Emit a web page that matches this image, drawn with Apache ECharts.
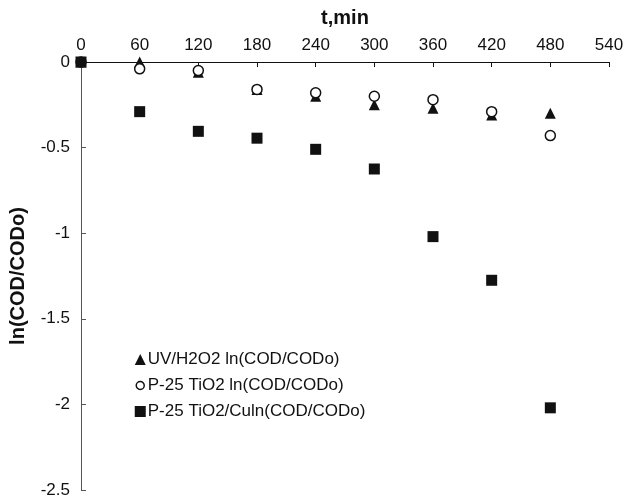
<!DOCTYPE html>
<html>
<head>
<meta charset="utf-8">
<script src="https://cdn.jsdelivr.net/npm/echarts@6/dist/echarts.min.js"></script>
<style>
  html, body { margin: 0; padding: 0; background: #fff; }
  #chart { width: 630px; height: 498px; }
</style>
</head>
<body>
<div id="chart"></div>
<script>
// time points, min
var times = [0, 60, 120, 180, 240, 300, 360, 420, 480];
// ln(COD/CODo) per process
var uvH2o2 = [0, 0, -0.06, -0.16, -0.2, -0.25, -0.27, -0.31, -0.3];
var p25Tio2 = [0, -0.04, -0.05, -0.16, -0.18, -0.2, -0.22, -0.29, -0.43];
var p25Tio2Cu = [0, -0.29, -0.405, -0.445, -0.51, -0.625, -1.02, -1.275, -2.02];
var seriesNames = ['UV/H2O2 ln(COD/CODo)', 'P-25 TiO2 ln(COD/CODo)', 'P-25 TiO2/Culn(COD/CODo)'];

function pairs(vals) {
	return times.map(function(t, i) {
		return [t, vals[i]];
	});
}

var chart = echarts.init(document.getElementById('chart'));
var font = '"Liberation Sans", Arial, sans-serif';

chart.setOption({
	animation : false,
	textStyle : { fontFamily : font },
	grid : {
		left : 81,
		right : 21,
		top : 62,
		bottom : 8,
		outerBoundsMode : 'none'
	},
	legend : {
		orient : 'vertical',
		left : 129,
		top : 346,
		itemGap : 9,
		itemWidth : 11,
		itemHeight : 11,
		textStyle : { fontSize : 17, color : '#111', fontFamily : font, padding : [0, 0, 0, -3] },
		data : [
			{ name : seriesNames[0], icon : 'triangle' },
			// smaller ring inside the 11px box
			{ name : seriesNames[1], icon : 'path://M5.5,1.5A4,4 0 1,1 5.49,1.5ZM0,0L0.01,0ZM11,11L10.99,11Z', itemStyle : { color : '#fff', borderColor : '#111', borderWidth : 1.5 } },
			{ name : seriesNames[2], icon : 'rect' }
		]
	},
	xAxis : {
		type : 'value',
		position : 'top',
		min : 0,
		max : 540,
		interval : 60,
		name : 't,min',
		nameLocation : 'middle',
		nameGap : 34,
		nameTextStyle : { fontSize : 20, fontWeight : 'bold', color : '#111', fontFamily : font },
		axisLine : { lineStyle : { color : '#111', width : 1 } },
		axisTick : { inside : true, length : 5, lineStyle : { color : '#111' } },
		axisLabel : { fontSize : 17, color : '#111', margin : 8 },
		splitLine : { show : false }
	},
	yAxis : {
		type : 'value',
		min : -2.5,
		max : 0,
		interval : 0.5,
		name : 'ln(COD/CODo)',
		nameLocation : 'middle',
		nameRotate : 90,
		nameGap : 53,
		nameTextStyle : { fontSize : 20, fontWeight : 'bold', color : '#111', fontFamily : font },
		axisLine : { show : true, lineStyle : { color : '#555', width : 1 } },
		axisTick : { show : true, inside : true, length : 5, lineStyle : { color : '#555' } },
		axisLabel : { fontSize : 17, color : '#111', margin : 11 },
		splitLine : { show : false }
	},
	series : [{
		name : seriesNames[0],
		type : 'scatter',
		symbol : 'triangle',
		symbolSize : 11,
		itemStyle : { color : '#111', opacity : 1 },
		data : pairs(uvH2o2),
		z : 2
	}, {
		name : seriesNames[1],
		type : 'scatter',
		symbol : 'circle',
		symbolSize : 10,
		itemStyle : { color : '#fff', borderColor : '#111', borderWidth : 1.5, opacity : 1 },
		data : pairs(p25Tio2),
		z : 3
	}, {
		name : seriesNames[2],
		type : 'scatter',
		symbol : 'rect',
		symbolSize : 11,
		itemStyle : { color : '#111', opacity : 1 },
		data : pairs(p25Tio2Cu),
		z : 4
	}]
});
</script>
</body>
</html>
